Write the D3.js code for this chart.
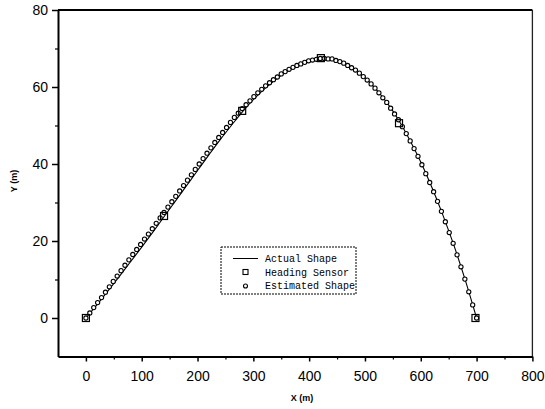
<!DOCTYPE html>
<html>
<head>
<meta charset="utf-8">
<title>Actual vs estimated shape</title>
<style>
  body { margin: 0; background: #fff; }
  svg { display: block; }
  .tick text { font-family: "Liberation Sans", Arial, sans-serif; font-size: 14px; fill: #000; }
  .axis path, .axis line { stroke: #000; }
</style>
</head>
<body>
<script src="https://cdn.jsdelivr.net/npm/d3@7"></script>
<script>
// tick values
var xTicks = [0, 100, 200, 300, 400, 500, 600, 700, 800];
var xMinor = [50, 150, 250, 350, 450, 550, 650, 750];
var yTicks = [0, 20, 40, 60, 80];
var yMinor = [10, 30, 50, 70];

// actual shape (line)
var actualX = [0, 20, 40, 60, 80, 100, 120, 140, 160, 180, 200, 220, 240, 260, 280, 300, 320, 340,
               360, 380, 400, 420, 440, 460, 480, 500, 520, 540, 560, 580, 600, 620, 640, 660, 680, 700];
var actualY = [0, 3.5, 7.1, 10.8, 14.6, 18.4, 22.3, 26.3, 30.3, 34.3, 38.3, 42.3, 46.2, 49.9, 53.5, 56.7, 59.5, 61.9,
               64.0, 65.6, 66.8, 67.4, 67.3, 66.4, 64.7, 62.4, 59.4, 55.8, 51.5, 46.3, 40.5, 33.9, 26.6, 18.6, 9.7, 0];

// heading sensor (squares)
var sensorX = [0, 140, 280, 421, 561, 698];
var sensorY = [0, 26.5, 53.8, 67.5, 50.6, 0];

// estimated shape (circles)
var estX = [0, 7, 14, 21, 28, 35, 42, 49, 56, 63, 70, 77, 84, 91, 98, 105, 112, 119, 126, 133,
            140, 147, 154, 161, 168, 175, 182, 189, 196, 203, 210, 217, 224, 231, 238, 245, 252, 259, 266, 273,
            280, 287, 294, 301, 308, 315, 322, 329, 336, 343, 350, 357, 364, 371, 378, 385, 392, 399, 406, 413,
            420, 427, 434, 441, 448, 455, 462, 469, 476, 483, 490, 497, 504, 511, 518, 525, 532, 539, 546, 553,
            560, 567, 574, 581, 588, 595, 602, 609, 616, 623, 630, 637, 644, 651, 658, 665, 672, 679, 686, 693, 700];
var estY = [0, 1.3, 2.7, 4.0, 5.3, 6.7, 8.1, 9.5, 10.9, 12.3, 13.7, 15.1, 16.5, 17.8, 19.1, 20.5, 21.8, 23.2, 24.6, 26.0,
            27.4, 28.8, 30.2, 31.6, 33.0, 34.4, 35.8, 37.2, 38.6, 40.0, 41.4, 42.8, 44.2, 45.6, 46.9, 48.2, 49.5, 50.8, 52.1, 53.2,
            54.4, 55.4, 56.4, 57.5, 58.5, 59.4, 60.3, 61.1, 61.9, 62.6, 63.4, 64.0, 64.6, 65.1, 65.6, 66.0, 66.4, 66.8, 67.0, 67.2,
            67.4, 67.4, 67.3, 67.3, 66.9, 66.6, 66.2, 65.6, 65.0, 64.4, 63.6, 62.7, 61.8, 60.8, 59.7, 58.5, 57.2, 56.0, 54.5, 53.0,
            51.5, 49.7, 47.9, 46.0, 44.0, 42.0, 39.8, 37.5, 35.2, 32.8, 30.3, 27.7, 25.0, 22.2, 19.4, 16.4, 13.3, 10.1, 6.8, 3.4, 0];

var legendLabels = ["Actual Shape", "Heading Sensor", "Estimated Shape"];

var width = 545, height = 409;

var svg = d3.select("body").append("svg")
    .attr("width", width)
    .attr("height", height);

var x = d3.scaleLinear().domain([-50, 800]).range([58, 532.4]);
var y = d3.scaleLinear().domain([-10, 80]).range([356.5, 10]);

// frame: top and right
svg.append("line")
    .attr("x1", x(-50)).attr("x2", x(800))
    .attr("y1", y(80)).attr("y2", y(80))
    .attr("stroke", "#000").attr("stroke-width", 2);
svg.append("line")
    .attr("x1", x(800)).attr("x2", x(800))
    .attr("y1", y(80)).attr("y2", y(-10))
    .attr("stroke", "#222").attr("stroke-width", 1.3);

// bottom axis
svg.append("g")
    .attr("class", "axis")
    .attr("transform", "translate(0," + y(-10) + ")")
    .call(d3.axisBottom(x).tickValues(xMinor).tickSize(3).tickSizeOuter(0).tickFormat(""))
    .call(function(g) { g.select(".domain").remove(); })
    .selectAll("line").attr("stroke-width", 1.2);

svg.append("g")
    .attr("class", "axis")
    .attr("transform", "translate(0," + y(-10) + ")")
    .call(d3.axisBottom(x).tickValues(xTicks).tickSize(5).tickSizeOuter(0).tickPadding(10).tickFormat(d3.format("d")))
    .call(function(g) {
        g.select(".domain").attr("stroke-width", 2);
        g.selectAll("line").attr("stroke-width", 1.5);
    });

// left axis
svg.append("g")
    .attr("class", "axis")
    .attr("transform", "translate(" + x(-50) + ",0)")
    .call(d3.axisLeft(y).tickValues(yMinor).tickSize(3).tickSizeOuter(0).tickFormat(""))
    .call(function(g) { g.select(".domain").remove(); })
    .selectAll("line").attr("stroke-width", 1.2);

svg.append("g")
    .attr("class", "axis")
    .attr("transform", "translate(" + x(-50) + ",0)")
    .call(d3.axisLeft(y).tickValues(yTicks).tickSize(6).tickSizeOuter(0).tickPadding(4).tickFormat(d3.format("d")))
    .call(function(g) {
        g.select(".domain").attr("stroke-width", 2);
        g.selectAll("line").attr("stroke-width", 1.5);
    });

// axis titles
svg.append("text")
    .attr("x", 302).attr("y", 401)
    .attr("text-anchor", "middle")
    .attr("font-family", "Liberation Sans, Arial, sans-serif")
    .attr("font-size", 9)
    .attr("font-weight", "bold")
    .text("X (m)");

svg.append("text")
    .attr("transform", "translate(17,181) rotate(-90)")
    .attr("text-anchor", "middle")
    .attr("font-family", "Liberation Sans, Arial, sans-serif")
    .attr("font-size", 9)
    .attr("font-weight", "bold")
    .text("Y (m)");

// actual shape
var line = d3.line()
    .x(function(d) { return x(d[0]); })
    .y(function(d) { return y(d[1]); })
    .curve(d3.curveMonotoneX);

svg.append("path")
    .datum(actualX.map(function(v, i) { return [v, actualY[i]]; }))
    .attr("d", line)
    .attr("fill", "none")
    .attr("stroke", "#000")
    .attr("stroke-width", 1.1);

// estimated shape
svg.selectAll("circle.est")
    .data(estX.map(function(v, i) { return [v, estY[i]]; }))
    .enter()
    .append("circle")
    .attr("class", "est")
    .attr("cx", function(d) { return x(d[0]); })
    .attr("cy", function(d) { return y(d[1]); })
    .attr("r", 2.1)
    .attr("fill", "#fff")
    .attr("stroke", "#000")
    .attr("stroke-width", 1.1);

// heading sensor
svg.selectAll("rect.sensor")
    .data(sensorX.map(function(v, i) { return [v, sensorY[i]]; }))
    .enter()
    .append("rect")
    .attr("class", "sensor")
    .attr("x", function(d) { return x(d[0]) - 3.5; })
    .attr("y", function(d) { return y(d[1]) - 3.5; })
    .attr("width", 7)
    .attr("height", 7)
    .attr("fill", "none")
    .attr("stroke", "#000")
    .attr("stroke-width", 1.2);

// legend
var lg = svg.append("g").attr("transform", "translate(221,247)");
lg.append("rect")
    .attr("width", 135).attr("height", 47)
    .attr("fill", "#fff")
    .attr("stroke", "#000")
    .attr("stroke-width", 1)
    .attr("stroke-dasharray", "2,1");

lg.append("line")
    .attr("x1", 12).attr("x2", 37)
    .attr("y1", 11.5).attr("y2", 11.5)
    .attr("stroke", "#000").attr("stroke-width", 1);
lg.append("rect")
    .attr("x", 22).attr("y", 22.5)
    .attr("width", 5).attr("height", 5)
    .attr("fill", "none").attr("stroke", "#000").attr("stroke-width", 1.1);
lg.append("circle")
    .attr("cx", 24.5).attr("cy", 39)
    .attr("r", 2)
    .attr("fill", "none").attr("stroke", "#000").attr("stroke-width", 1.1);

lg.selectAll("text")
    .data(legendLabels)
    .enter()
    .append("text")
    .attr("x", 44)
    .attr("y", function(d, i) { return 15 + i * 13.7; })
    .attr("font-family", "Liberation Mono, DejaVu Sans Mono, monospace")
    .attr("font-size", 10)
    .text(function(d) { return d; });
</script>
</body>
</html>
